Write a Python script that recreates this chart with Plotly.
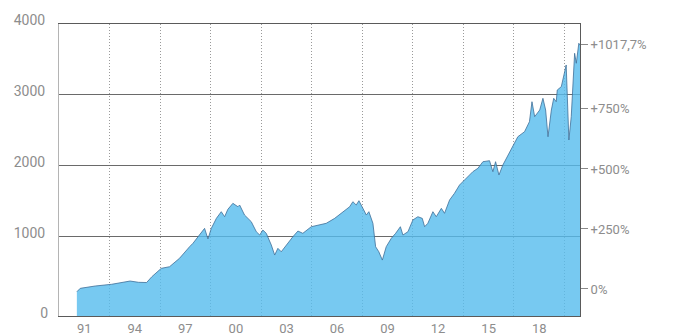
import plotly.graph_objects as go

# index level (decimal year, points)
years = [
    1991.06, 1991.26, 1992.15, 1993.12, 1994.22, 1994.72, 1995.20, 1995.51, 1996.07, 1996.56,
    1997.15, 1997.26, 1997.55, 1997.75, 1997.95, 1998.34, 1998.64, 1998.84, 1999.04, 1999.34,
    1999.63, 1999.83, 2000.02, 2000.32, 2000.62, 2000.72, 2001.01, 2001.41, 2001.71, 2001.91,
    2002.10, 2002.30, 2002.60, 2002.80, 2002.99, 2003.19, 2003.49, 2003.88, 2004.18, 2004.47,
    2004.97, 2005.57, 2005.86, 2006.36, 2006.85, 2007.25, 2007.44, 2007.64, 2007.80, 2008.04,
    2008.24, 2008.39, 2008.63, 2008.79, 2008.98, 2009.19, 2009.42, 2009.72, 2009.98, 2010.26,
    2010.41, 2010.71, 2011.00, 2011.30, 2011.56, 2011.70, 2011.89, 2012.19, 2012.39, 2012.69,
    2012.88, 2013.18, 2013.47, 2013.77, 2014.17, 2014.56, 2014.86, 2015.16, 2015.55, 2015.75,
    2015.91, 2016.11, 2016.34, 2016.64, 2016.94, 2017.23, 2017.63, 2017.92, 2018.07, 2018.23,
    2018.53, 2018.72, 2018.88, 2019.02, 2019.22, 2019.36, 2019.51, 2019.57, 2019.81, 2020.10,
    2020.26, 2020.40, 2020.60, 2020.70, 2020.85, 2020.92,
]
index_values = [
    224, 272, 305, 329, 375, 357, 354, 436, 554, 577,
    695, 728, 812, 859, 907, 1024, 1118, 968, 1118, 1259,
    1353, 1282, 1386, 1471, 1423, 1447, 1306, 1212, 1071, 1024,
    1094, 1048, 883, 742, 836, 788, 883, 1000, 1080, 1048,
    1141, 1175, 1189, 1259, 1353, 1423, 1494, 1447, 1508, 1400,
    1306, 1353, 1189, 859, 788, 671, 859, 977, 1048, 1141,
    1024, 1071, 1236, 1282, 1259, 1141, 1189, 1353, 1282, 1400,
    1330, 1518, 1612, 1729, 1824, 1917, 1965, 2058, 2072, 1917,
    2058, 1870, 2011, 2152, 2293, 2410, 2481, 2622, 2904, 2693,
    2787, 2952, 2787, 2410, 2787, 2952, 2904, 3069, 3116, 3422,
    2364, 2693, 3587, 3446, 3728, 3700,
]

# x axis: labels sit in the middle of a year, dotted grid every 3 years
year_labels = ["91", "94", "97", "00", "03", "06", "09", "12", "15", "18"]
label_years = [1991, 1994, 1997, 2000, 2003, 2006, 2009, 2012, 2015, 2018]
grid_years = [1993, 1996, 1999, 2002, 2005, 2008, 2011, 2014, 2017, 2020]

# left axis (points) and right axis (change since start)
left_ticks = [1000, 2000, 3000, 4000]
pct_ticks = [0, 250, 500, 750, 1017.7]
pct_labels = ["0%", "+250%", "+500%", "+750%", "+1017,7%"]

Y_MIN, Y_MAX = -118, 4000
X_MIN, X_MAX = 1990.0, 2020.92

FILL = "rgba(85,187,238,0.8)"
LINE = "#3f6f98"
TEXT = "#8d8d8d"
FONT = "Roboto"

fig = go.Figure()

# baseline so the fill reaches the bottom of the frame
fig.add_trace(go.Scatter(
    x=[years[0], years[-1]], y=[Y_MIN, Y_MIN],
    mode="lines", line=dict(width=0), hoverinfo="skip", showlegend=False
))
fig.add_trace(go.Scatter(
    x=years, y=index_values,
    mode="lines", fill="tonexty", fillcolor=FILL,
    line=dict(color=LINE, width=0.8),
    showlegend=False,
    hovertemplate="%{x:.2f}: %{y:.0f}<extra></extra>"
))
# dummy traces to keep the helper axes alive
fig.add_trace(go.Scatter(x=[None], y=[None], yaxis="y2", showlegend=False, hoverinfo="skip"))
fig.add_trace(go.Scatter(x=[None], y=[None], yaxis="y3", showlegend=False, hoverinfo="skip"))

fig.update_layout(
    width=676, height=336,
    margin=dict(l=59, r=96, t=24, b=20),
    paper_bgcolor="white", plot_bgcolor="white",
    font=dict(family=FONT, size=13, color=TEXT),
    showlegend=False,
    xaxis=dict(
        range=[X_MIN, X_MAX],
        tickmode="array",
        tickvals=[y + 0.5 for y in label_years],
        ticktext=year_labels,
        ticks="", showgrid=False, zeroline=False,
        showline=True, linecolor="#5a5a5a", linewidth=1, mirror=True,
        tickfont=dict(size=13, color=TEXT),
        ticklabelstandoff=0,
        automargin=False,
        minor=dict(
            tickmode="array", tickvals=grid_years, ticks="",
            showgrid=True, gridcolor="#9a9a9a", gridwidth=1, griddash="1px,2px"
        ),
    ),
    yaxis=dict(
        range=[Y_MIN, Y_MAX],
        tickmode="array", tickvals=left_ticks,
        ticks="", showgrid=True, gridcolor="#6a6a6a", gridwidth=1,
        zeroline=False,
        showline=True, linecolor="#b4b4b4", linewidth=1,
        tickfont=dict(size=14, color=TEXT),
        ticklabelstandoff=10, ticklabelshift=-4,
        automargin=False,
    ),
    yaxis3=dict(
        overlaying="y", side="left", anchor="x",
        range=[Y_MIN, Y_MAX],
        tickmode="array", tickvals=[0], ticktext=["0"],
        ticks="", showgrid=False, zeroline=False, showline=False,
        tickfont=dict(size=14, color=TEXT),
        ticklabelstandoff=10, ticklabelshift=5,
        automargin=False,
    ),
    yaxis2=dict(
        overlaying="y", side="right", anchor="x",
        range=[-112.5, 1103.7],
        tickmode="array", tickvals=pct_ticks, ticktext=pct_labels,
        ticks="outside", ticklen=7, tickwidth=1, tickcolor="#8a8a8a",
        showgrid=False, zeroline=False,
        showline=True, linecolor="#5a5a5a", linewidth=1,
        tickfont=dict(size=13, color=TEXT),
        automargin=False,
    ),
)

# drop the browser's default body margin so the page is exactly the figure
fig.write_html(
    "out.html",
    config={"displayModeBar": False},
    post_script="document.body.style.margin='0';",
)
